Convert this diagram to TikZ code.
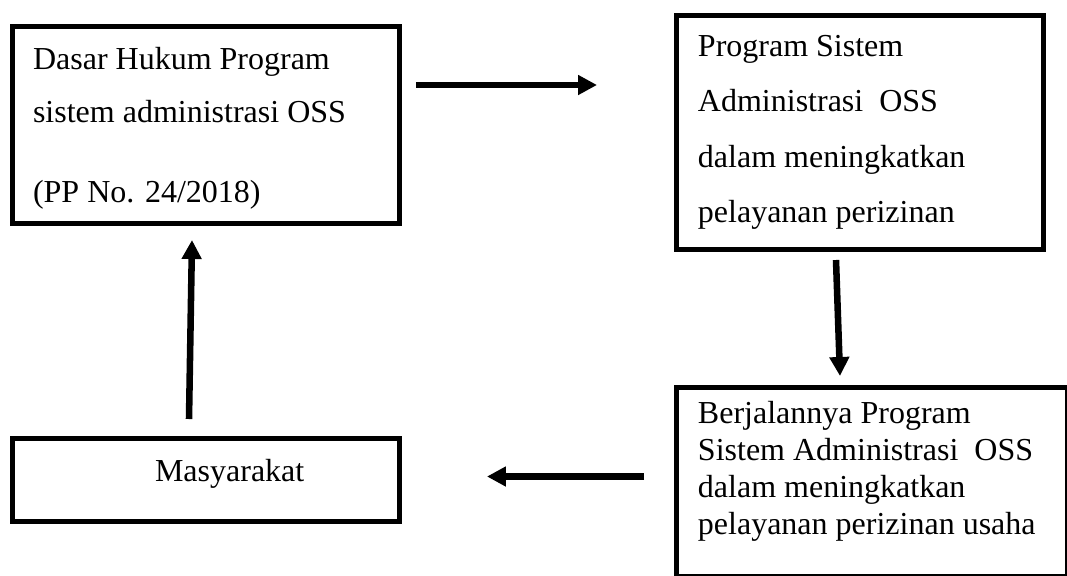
\documentclass[tikz,border=0pt]{standalone}
\usepackage{fontspec}
\setmainfont{Liberation Serif}
\usetikzlibrary{arrows.meta, calc}

\begin{document}
\begin{tikzpicture}[
    x=0.75pt, y=-0.75pt,
    box/.style={rectangle, draw=black, line width=3.75pt, inner xsep=15.4pt, inner ysep=0pt, outer sep=0pt, anchor=north west},
    arrow/.style={-{Triangle[length=14.25pt, width=14.25pt]}, line width=4.9pt, black}
]
    \path[use as bounding box, fill=white] (0,0) rectangle (1067,575);

    % Boxes
    \node (dasar) [box] at (12.5,26) {\parbox[c][147.75pt][t]{259.8pt}{\fontsize{24}{40}\selectfont
        \rule{0pt}{32.5pt}Dasar Hukum Program\\
        sistem administrasi OSS\\[19.5pt]
        (PP No. 24/2018)}};
    \node (program) [box, inner xsep=16.1pt] at (676.5,15.5) {\parbox[c][175.5pt][t]{243pt}{\fontsize{24}{41.7}\selectfont
        \rule{0pt}{30.5pt}Program Sistem\\
        Administrasi\ \ OSS\\
        dalam meningkatkan\\
        pelayanan perizinan}};
    \node (berjalan) [box, inner xsep=16.1pt] at (676.5,387.5) {\parbox[c][142.1pt][t]{261.4pt}{\fontsize{24}{27.75}\selectfont
        \rule{0pt}{27pt}Berjalannya Program\\
        Sistem Administrasi\ \ OSS\\
        dalam meningkatkan\\
        pelayanan perizinan usaha}};
    \node (masyarakat) [box] at (12.5,438.5) {\parbox[c][62.25pt][t]{259.8pt}{\fontsize{24}{40}\selectfont
        \rule{0pt}{32.5pt}\hspace*{91.5pt}Masyarakat}};

    % Connections
    \draw [arrow] ($(dasar.north east)+(16,59)$) -- ($(program.north west)+(-79.5,69.5)$);
    \draw [arrow] ($(program.south west)+(159.5,10.5)$) -- ($(berjalan.north west)+(163.5,-11.5)$);
    \draw [arrow] ($(berjalan.north west)+(-32.5,89)$) -- ($(masyarakat.north east)+(87,38)$);
    \draw [arrow] ($(masyarakat.north west)+(176.5,-19.5)$) -- ($(dasar.south west)+(179.5,17)$);
\end{tikzpicture}
\end{document}
